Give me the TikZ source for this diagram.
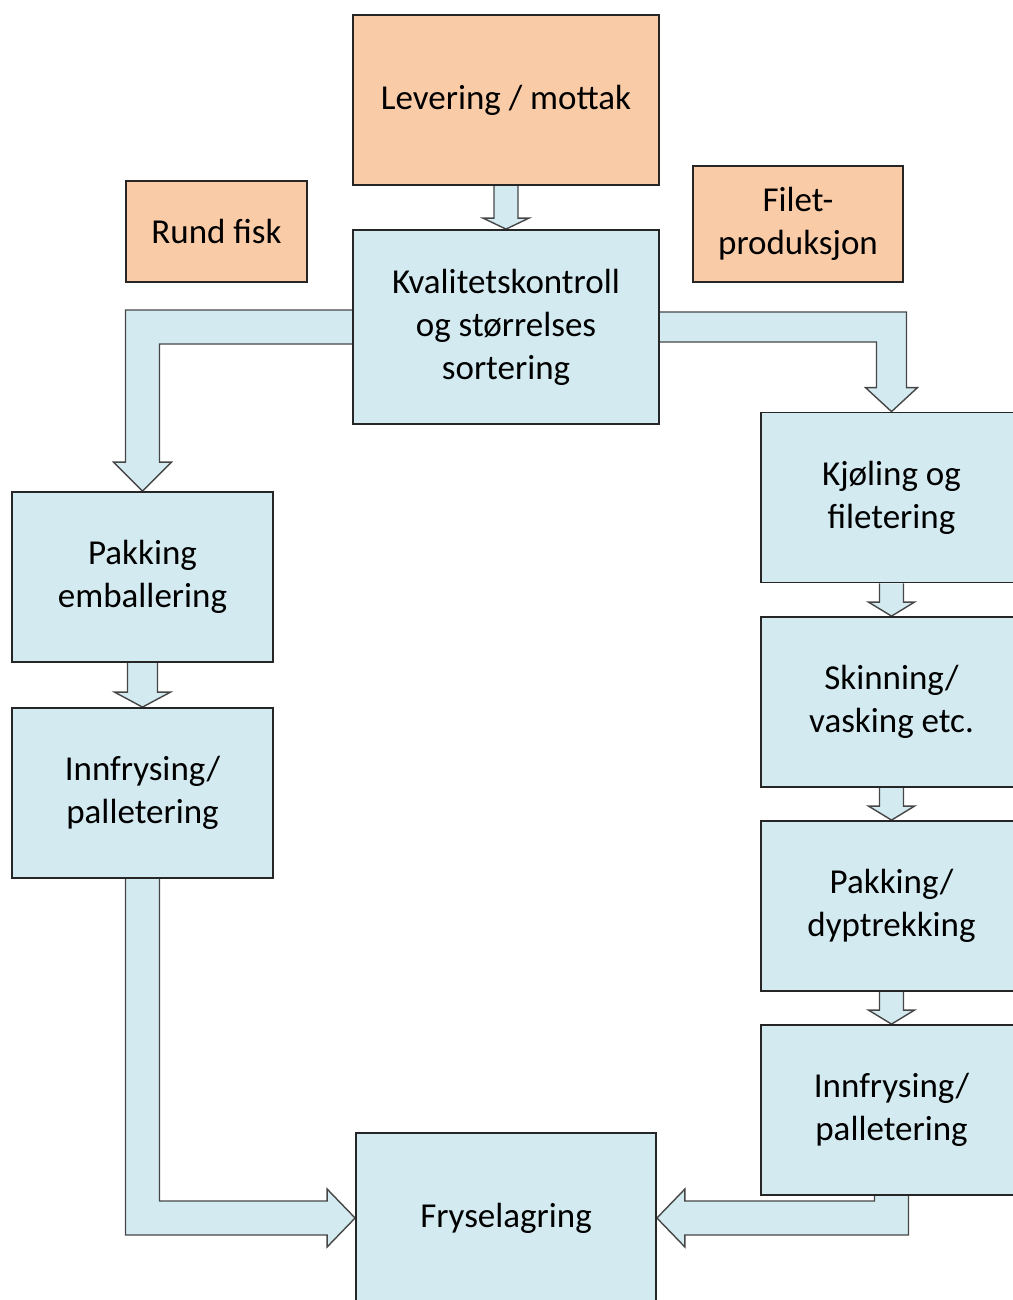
\documentclass[tikz,border=0pt]{standalone}
\usepackage{fontspec}
\setmainfont{Carlito}
\usetikzlibrary{calc,backgrounds}

\definecolor{boxblue}{RGB}{210,234,240}
\definecolor{boxorange}{RGB}{250,203,167}
\definecolor{edgegray}{RGB}{70,70,70}

\tikzset{
  stepbox/.style={
    draw=black!85,
    line width=1.8pt,
    fill=boxblue,
    align=center,
    inner sep=0pt,
    font=\fontsize{35}{43}\selectfont
  },
  inbox/.style={stepbox, fill=boxorange},
  blockarrow/.style={
    draw=edgegray,
    line width=1.4pt,
    fill=boxblue,
    line join=miter
  }
}

\begin{document}
\begin{tikzpicture}[x=1pt, y=-1pt]
    \useasboundingbox (0,0) rectangle (1012,1300);

    % top row
    \node[inbox, minimum width=306pt, minimum height=170pt] (levering) at (506,100) {Levering / mottak};
    \node[inbox, minimum width=181pt, minimum height=101pt] (rund) at (216.5,231.5) {Rund fisk};
    \node[inbox, minimum width=210pt, minimum height=116pt] (filet) at (798,224) {Filet-\\produksjon};
    \node[stepbox, minimum width=306pt, minimum height=194pt] (kval) at (506,327) {Kvalitetskontroll\\og størrelses\\sortering};

    % left column
    \node[stepbox, minimum width=261pt, minimum height=170pt] (pakking) at (142.5,577) {Pakking\\emballering};
    \node[stepbox, minimum width=261pt, minimum height=170pt] (innfrysingl) at (142.5,793) {Innfrysing/\\palletering};

    % right column
    \node[stepbox, minimum width=261pt, minimum height=170pt] (kjoling) at (891.5,497.5) {Kjøling og\\filetering};
    \node[stepbox, minimum width=261pt, minimum height=170pt] (skinning) at (891.5,702) {Skinning/\\vasking etc.};
    \node[stepbox, minimum width=261pt, minimum height=170pt] (pakkingr) at (891.5,906) {Pakking/\\dyptrekking};
    \node[stepbox, minimum width=261pt, minimum height=170pt] (innfrysingr) at (891.5,1110) {Innfrysing/\\palletering};

    \node[stepbox, minimum width=300pt, minimum height=170pt] (fryse) at (506,1218) {Fryselagring};

    \begin{pgfonlayer}{background}
        \filldraw[blockarrow]
          ($(levering.south)+(-12,0)$) -- ($(kval.north)+(-12,-11)$) -- ++(-11,0)
          -- (kval.north) -- ($(kval.north)+(23,-11)$) -- ++(-11,0)
          -- ($(levering.south)+(12,0)$);

        \filldraw[blockarrow]
          ($(kval.west)+(0,-17)$) -| ($(pakking.north)+(-17,-29)$) -- ++(-12,0)
          -- (pakking.north) -- ($(pakking.north)+(29,-29)$) -- ++(-12,0)
          |- ($(kval.west)+(0,17)$);

        \filldraw[blockarrow]
          ($(kval.east)+(0,-15)$) -| ($(kjoling.north)+(15,-24)$) -- ++(11,0)
          -- (kjoling.north) -- ($(kjoling.north)+(-26,-24)$) -- ++(11,0)
          |- ($(kval.east)+(0,15)$);

        \filldraw[blockarrow]
          ($(pakking.south)+(-15,0)$) -- ($(innfrysingl.north)+(-15,-15)$) -- ++(-13,0)
          -- (innfrysingl.north) -- ($(innfrysingl.north)+(28,-15)$) -- ++(-13,0)
          -- ($(pakking.south)+(15,0)$);

        \foreach \a/\b in {kjoling/skinning, skinning/pakkingr, pakkingr/innfrysingr} {
            \filldraw[blockarrow]
              ($(\a.south)+(-12,0)$) -- ($(\b.north)+(-12,-14)$) -- ++(-11,0)
              -- (\b.north) -- ($(\b.north)+(23,-14)$) -- ++(-11,0)
              -- ($(\a.south)+(12,0)$);
        }

        \filldraw[blockarrow]
          ($(innfrysingl.south)+(-17,0)$) |- ($(fryse.west)+(-28,17)$) -- ++(0,12)
          -- (fryse.west) -- ($(fryse.west)+(-28,-29)$) -- ++(0,12)
          -| ($(innfrysingl.south)+(17,0)$);

        \filldraw[blockarrow]
          ($(innfrysingr.south)+(17,0)$) |- ($(fryse.east)+(28,17)$) -- ++(0,12)
          -- (fryse.east) -- ($(fryse.east)+(28,-29)$) -- ++(0,12)
          -| ($(innfrysingr.south)+(-17,0)$);
    \end{pgfonlayer}

\end{tikzpicture}
\end{document}
